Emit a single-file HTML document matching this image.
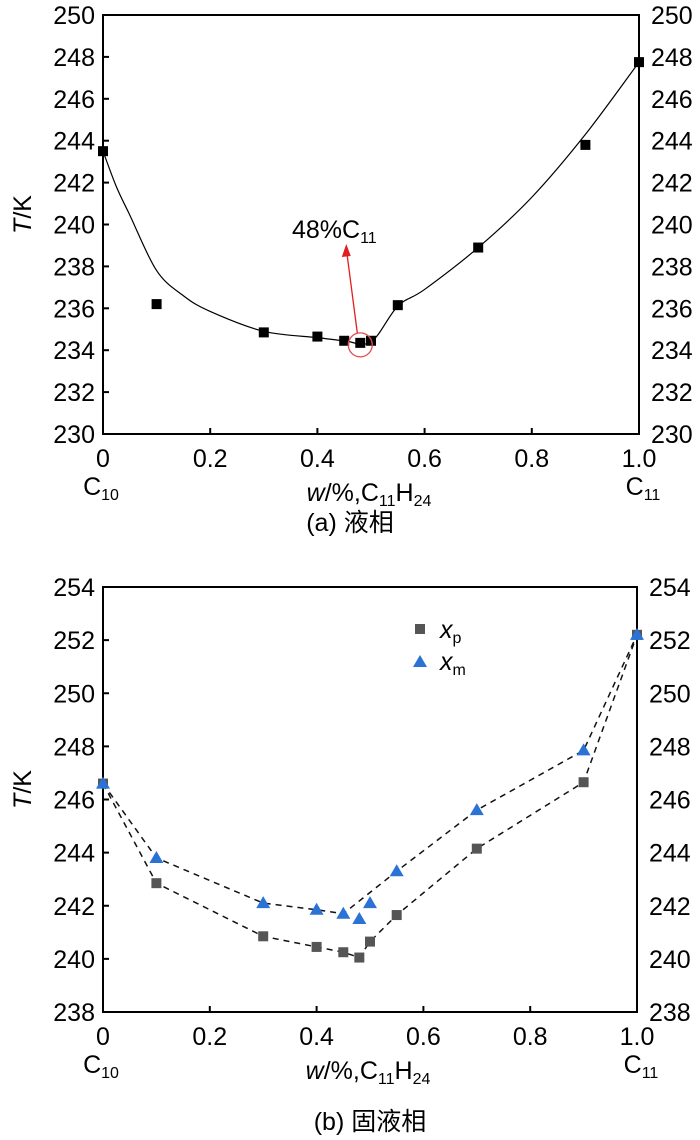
<!DOCTYPE html>
<html><head><meta charset="utf-8">
<style>
body{margin:0;background:#fff;}
svg{display:block;font-family:"Liberation Sans","Noto Sans CJK SC",sans-serif;}
</style></head>
<body>
<svg id="chart" width="700" height="1140" viewBox="0 0 700 1140"></svg>
<script>
// ---- Data: panel (a) liquid phase ----
const liqX = [0, 0.1, 0.3, 0.4, 0.45, 0.48, 0.5, 0.55, 0.7, 0.9, 1.0];
const liqT = [243.5, 236.2, 234.85, 234.65, 234.45, 234.35, 234.45, 236.15, 238.9, 243.8, 247.75];
const fitX = [0, 0.025, 0.05, 0.1, 0.15, 0.2, 0.3, 0.4, 0.45, 0.5, 0.55, 0.6, 0.7, 0.8, 0.9, 1.0];
const fitT = [243.5, 241.8, 240.45, 237.8, 236.6, 235.85, 234.9, 234.6, 234.45, 234.4, 236.1, 236.9, 238.9, 241.3, 244.3, 247.75];
const ticksA = [230, 232, 234, 236, 238, 240, 242, 244, 246, 248, 250];
// ---- Data: panel (b) solid-liquid phase ----
const solX = [0, 0.1, 0.3, 0.4, 0.45, 0.48, 0.5, 0.55, 0.7, 0.9, 1.0];
const xpT = [246.6, 242.85, 240.85, 240.45, 240.25, 240.05, 240.65, 241.65, 244.15, 246.65, 252.2];
const xmT = [246.6, 243.8, 242.1, 241.85, 241.7, 241.5, 242.1, 243.3, 245.6, 247.85, 252.2];
const xmLineIdx = [0, 1, 2, 3, 4, 7, 8, 9, 10];
const ticksB = [238, 240, 242, 244, 246, 248, 250, 252, 254];
const xTicks = [0, 0.2, 0.4, 0.6, 0.8, 1.0];
const xTickLabels = ["0", "0.2", "0.4", "0.6", "0.8", "1.0"];

const NS = "http://www.w3.org/2000/svg";
const svg = document.getElementById("chart");
function mk(tag, attrs, parent, text) {
  const e = document.createElementNS(NS, tag);
  for (const k in attrs) e.setAttribute(k, attrs[k]);
  if (text !== undefined) e.textContent = text;
  (parent || svg).appendChild(e);
  return e;
}
const FS = 25, SFS = 16;

function drawFrame(g, L, R, T, B, ymin, ymax, yticks, sx, sy, name) {
  const frame = mk("rect", {x: L, y: T, width: R - L, height: B - T, fill: "none", stroke: "#000", "stroke-width": 2}, g);
  
  
  yticks.forEach(v => {
    const y = sy(v);
    const t = mk("line", {x1: L, x2: L + 6, y1: y, y2: y, stroke: "#000", "stroke-width": 2}, g);
    
    
    const lab = mk("text", {x: L - 8, y: y + 9, "text-anchor": "end", "font-size": FS}, g, String(v));
    
    
    const lab2 = mk("text", {x: R + 12, y: y + 9, "text-anchor": "start", "font-size": FS}, g, String(v));
    
    
  });
  xTicks.forEach((v, i) => {
    const x = sx(v);
    if (i > 0 && i < xTicks.length - 1) {
      const t = mk("line", {x1: x, x2: x, y1: B, y2: B - 6, stroke: "#000", "stroke-width": 2}, g);
      
      
    }
    const lab = mk("text", {x: x, y: B + 33, "text-anchor": "middle", "font-size": FS}, g, xTickLabels[i]);
    
    
  });
  const c10 = mk("text", {x: L - 2, y: B + 61, "text-anchor": "middle", "font-size": FS}, g);
  
  
  c10.innerHTML = 'C<tspan font-size="' + SFS + '" dy="5">10</tspan>';
  const c11 = mk("text", {x: R + 4, y: B + 61, "text-anchor": "middle", "font-size": FS}, g);
  
  
  c11.innerHTML = 'C<tspan font-size="' + SFS + '" dy="5">11</tspan>';
  const xt = mk("text", {x: (L + R) / 2 - 2, y: B + 67, "text-anchor": "middle", "font-size": FS}, g);
  
  
  xt.innerHTML = '<tspan font-style="italic">w</tspan>/%,C<tspan font-size="' + SFS + '" dy="5">11</tspan><tspan dy="-5">H</tspan><tspan font-size="' + SFS + '" dy="5">24</tspan>';
  const yt = mk("text", {x: 0, y: 0, "text-anchor": "middle", "font-size": FS, transform: "translate(31," + ((T + B) / 2 - 10) + ") rotate(-90)"}, g);
  
  
  yt.innerHTML = '<tspan font-style="italic">T</tspan>/K';
}

// ---- Panel (a) ----
const gA = mk("g", {});


const A = {L: 103, R: 639, T: 15, B: 434, min: 230, max: 250};
const sxA = v => A.L + v * (A.R - A.L);
const syA = v => A.B - (v - A.min) / (A.max - A.min) * (A.B - A.T);
drawFrame(gA, A.L, A.R, A.T, A.B, A.min, A.max, ticksA, sxA, syA, "panel-a");

function smoothPath(xs, ys) {
  const p = xs.map((x, i) => [x, ys[i]]);
  let d = "M" + p[0][0] + "," + p[0][1];
  for (let i = 0; i < p.length - 1; i++) {
    const p0 = p[Math.max(0, i - 1)], p1 = p[i], p2 = p[i + 1], p3 = p[Math.min(p.length - 1, i + 2)];
    const c1 = [p1[0] + (p2[0] - p0[0]) / 6, p1[1] + (p2[1] - p0[1]) / 6];
    const c2 = [p2[0] - (p3[0] - p1[0]) / 6, p2[1] - (p3[1] - p1[1]) / 6];
    d += " C" + c1.join(",") + " " + c2.join(",") + " " + p2.join(",");
  }
  return d;
}
const fitCurve = mk("path", {d: smoothPath(fitX.map(sxA), fitT.map(syA)), fill: "none", stroke: "#000", "stroke-width": 1.2}, gA);


liqX.forEach((x, i) => {
  const m = mk("rect", {x: sxA(x) - 5, y: syA(liqT[i]) - 5, width: 10, height: 10, fill: "#000"}, gA);
  
  
});
const cx = sxA(0.48), cy = syA(liqT[5]);
const circ = mk("circle", {cx: cx, cy: cy + 2, r: 12, fill: "none", stroke: "#e05050", "stroke-width": 1.3}, gA);


const arr = mk("line", {x1: cx - 3, y1: cy - 10, x2: cx - 13, y2: 256, stroke: "#e02020", "stroke-width": 1.3}, gA);


const head = mk("polygon", {points: (cx - 14) + ",244 " + (cx - 18.5) + ",257 " + (cx - 9.5) + ",256", fill: "#e02020"}, gA);


const ann = mk("text", {x: 292, y: 238, "font-size": FS}, gA);


ann.innerHTML = '48%C<tspan font-size="' + SFS + '" dy="5">11</tspan>';
const capA = mk("text", {x: 350, y: 531, "text-anchor": "middle", "font-size": FS}, gA, "(a) 液相");



// ---- Panel (b) ----
const gB = mk("g", {});


const B = {L: 103, R: 637, T: 587, B: 1012, min: 238, max: 254};
const sxB = v => B.L + v * (B.R - B.L);
const syB = v => B.B - (v - B.min) / (B.max - B.min) * (B.B - B.T);
drawFrame(gB, B.L, B.R, B.T, B.B, B.min, B.max, ticksB, sxB, syB, "panel-b");

const xpLine = mk("polyline", {points: solX.map((x, i) => sxB(x) + "," + syB(xpT[i])).join(" "), fill: "none", stroke: "#111", "stroke-width": 1.5, "stroke-dasharray": "6,5"}, gB);


const xmLine = mk("polyline", {points: xmLineIdx.map(i => sxB(solX[i]) + "," + syB(xmT[i])).join(" "), fill: "none", stroke: "#111", "stroke-width": 1.5, "stroke-dasharray": "6,5"}, gB);


solX.forEach((x, i) => {
  const m = mk("rect", {x: sxB(x) - 5, y: syB(xpT[i]) - 5, width: 10, height: 10, fill: "#555"}, gB);
  
  
});
solX.forEach((x, i) => {
  const px = sxB(x), py = syB(xmT[i]);
  const m = mk("polygon", {points: px + "," + (py - 7) + " " + (px - 7) + "," + (py + 5) + " " + (px + 7) + "," + (py + 5), fill: "#2a72d6"}, gB);
  
  
});
const lg = mk("g", {}, gB);


const l1 = mk("rect", {x: 415, y: 624, width: 10, height: 10, fill: "#555"}, lg);


const l1t = mk("text", {x: 440, y: 638, "font-size": FS}, lg);


l1t.innerHTML = '<tspan font-style="italic">x</tspan><tspan font-size="' + SFS + '" dy="5">p</tspan>';
const l2 = mk("polygon", {points: "420,655 413,667 427,667", fill: "#2a72d6"}, lg);


const l2t = mk("text", {x: 440, y: 670, "font-size": FS}, lg);


l2t.innerHTML = '<tspan font-style="italic">x</tspan><tspan font-size="' + SFS + '" dy="5">m</tspan>';
const capB = mk("text", {x: 370, y: 1130, "text-anchor": "middle", "font-size": FS}, gB, "(b) 固液相");


</script>
</body></html>
